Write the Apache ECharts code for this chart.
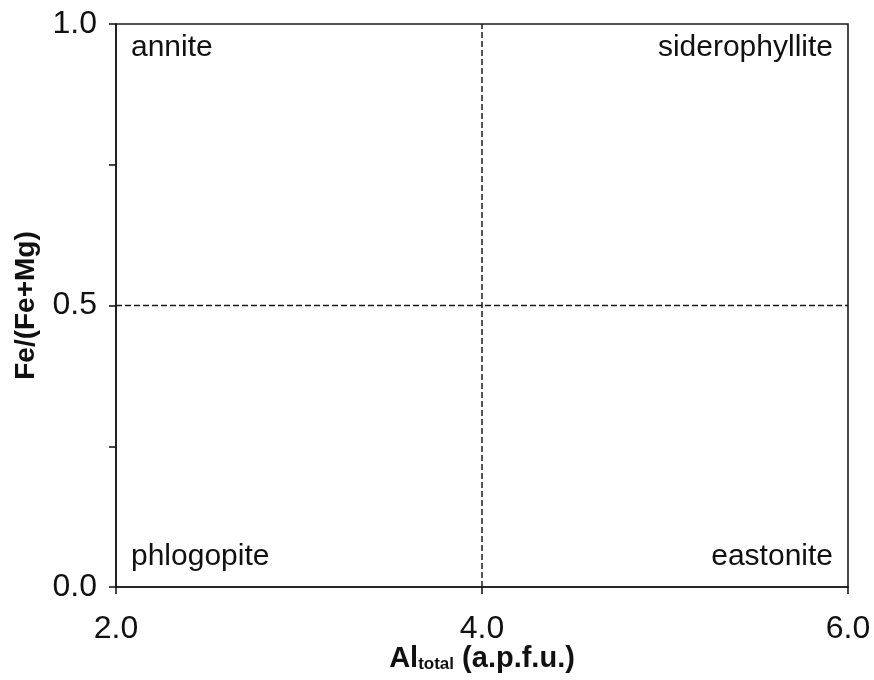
<!DOCTYPE html>
<html>
<head>
<meta charset="utf-8">
<script src="https://cdn.jsdelivr.net/npm/echarts@6/dist/echarts.min.js"></script>
<style>
html,body{margin:0;padding:0;background:#fff;}
#chart{width:874px;height:680px;}
</style>
</head>
<body>
<div id="chart"></div>
<script>
// Axis ranges and ticks
const xTicks = [2.0, 4.0, 6.0];
const yTicks = [0.0, 0.5, 1.0];
// Field boundaries (dashed)
const vBoundaryX = [4.0, 4.0];
const vBoundaryY = [0.0, 1.0];
const hBoundaryX = [2.0, 6.0];
const hBoundaryY = [0.5, 0.5];
// End-member labels and their anchor corners
const fieldNames = ['annite', 'siderophyllite', 'phlogopite', 'eastonite'];
const fieldX = [2.0, 6.0, 2.0, 6.0];
const fieldY = [1.0, 1.0, 0.0, 0.0];

const FONT = '"Liberation Sans", Arial, Helvetica, sans-serif';
const chart = echarts.init(document.getElementById('chart'), null, {renderer: 'canvas'});

const labelPos = [
  {align: 'left', offset: [15, 24]},
  {align: 'right', offset: [-15, 24]},
  {align: 'left', offset: [15, -30]},
  {align: 'right', offset: [-15, -30]}
];

const fieldData = fieldNames.map((n, i) => ({
  name: n,
  value: [fieldX[i], fieldY[i]],
  itemStyle: {opacity: 1},
  label: {
    show: true,
    formatter: n,
    position: 'inside',
    align: labelPos[i].align,
    verticalAlign: 'middle',
    offset: labelPos[i].offset,
    fontSize: 30,
    fontFamily: FONT,
    color: '#111'
  }
}));

const axisLineStyle = {color: '#1a1a1a', width: 1.6};

chart.setOption({
  animation: false,
  backgroundColor: '#fff',
  grid: {
    left: 116, right: 26, top: 24, bottom: 93,
    outerBoundsMode: 'none', containLabel: false,
    show: true, borderColor: '#1a1a1a', borderWidth: 1.6, backgroundColor: 'transparent'
  },
  xAxis: {
    type: 'value',
    min: xTicks[0], max: xTicks[xTicks.length - 1], interval: xTicks[1] - xTicks[0],
    axisLine: {show: true, onZero: false, lineStyle: axisLineStyle},
    axisTick: {show: true, inside: false, length: 7, lineStyle: axisLineStyle},
    splitLine: {show: false},
    axisLabel: {
      fontSize: 32, fontFamily: FONT, color: '#111', margin: 26,
      formatter: v => v.toFixed(1)
    },
    name: '{m|Al}{s|total}{m| (a.p.f.u.)}',
    nameLocation: 'middle',
    nameGap: 54,
    nameMoveOverlap: false,
    nameTextStyle: {
      rich: {
        m: {fontSize: 29, fontWeight: 'bold', fontFamily: FONT, color: '#111', lineHeight: 32, verticalAlign: 'bottom'},
        s: {fontSize: 17, fontWeight: 'bold', fontFamily: FONT, color: '#111', lineHeight: 8, verticalAlign: 'bottom'}
      }
    }
  },
  yAxis: {
    type: 'value',
    min: yTicks[0], max: yTicks[yTicks.length - 1], interval: 0.25,
    axisLine: {show: true, onZero: false, lineStyle: axisLineStyle},
    axisTick: {show: true, inside: false, length: 7, lineStyle: axisLineStyle},
    splitLine: {show: false},
    axisLabel: {
      fontSize: 32, fontFamily: FONT, color: '#111', margin: 19,
      formatter: v => (yTicks.some(t => Math.abs(t - v) < 1e-9) ? v.toFixed(1) : '')
    },
    name: 'Fe/(Fe+Mg)',
    nameLocation: 'middle',
    nameGap: 76,
    nameRotate: 90,
    nameMoveOverlap: false,
    nameTextStyle: {fontSize: 28, fontWeight: 'bold', fontFamily: FONT, color: '#111'}
  },
  series: [
    {
      type: 'line',
      data: vBoundaryX.map((x, i) => [x, vBoundaryY[i]]),
      symbol: 'none',
      silent: true,
      lineStyle: {color: '#1a1a1a', width: 1.5, type: [6, 3]}
    },
    {
      type: 'line',
      data: hBoundaryX.map((x, i) => [x, hBoundaryY[i]]),
      symbol: 'none',
      silent: true,
      lineStyle: {color: '#1a1a1a', width: 1.5, type: [6, 3]}
    },
    {
      type: 'scatter',
      symbolSize: 0,
      silent: true,
      data: fieldData
    }
  ]
});
</script>
</body>
</html>
